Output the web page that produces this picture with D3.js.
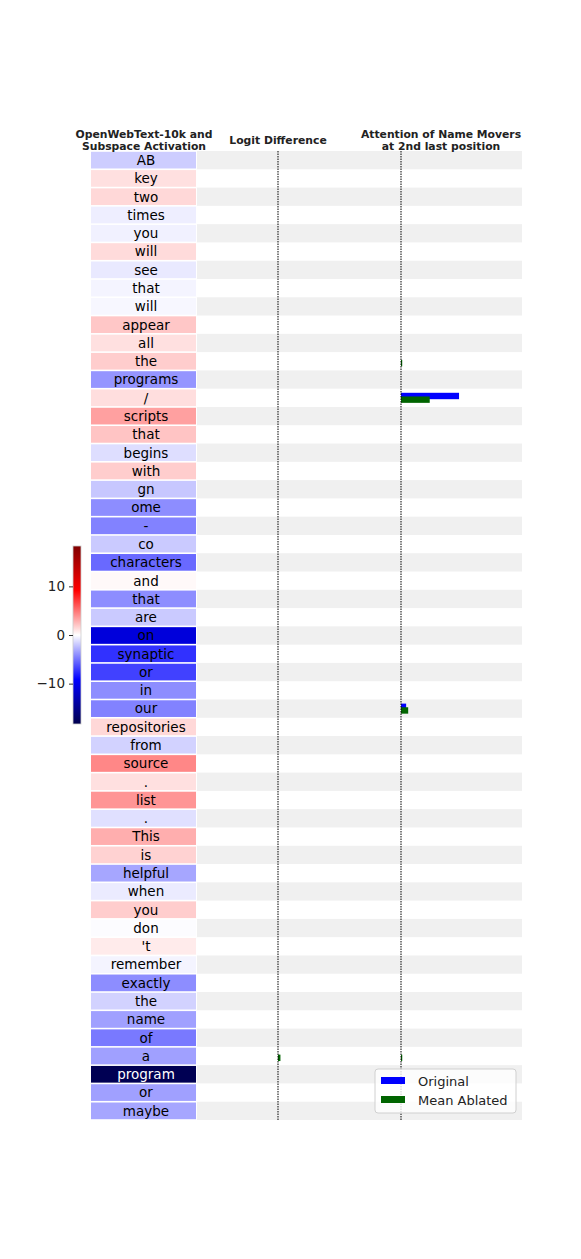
<!DOCTYPE html>
<meta charset="utf-8">
<style>
body { margin: 0; background: #fff; font-family: "DejaVu Sans", sans-serif; }
.title { font-weight: bold; font-size: 10.8px; text-anchor: middle; fill: #222; }
.tok { font-size: 13.5px; text-anchor: middle; }
.legend text { font-size: 13px; fill: #222; }
</style>
<body>
<script src="https://cdn.jsdelivr.net/npm/d3@7"></script>
<script>

var tokens = ["AB","key","two","times","you","will","see","that","will","appear","all","the",
  "programs","/","scripts","that","begins","with","gn","ome","-","co","characters","and","that",
  "are","on","synaptic","or","in","our","repositories","from","source",".","list",".","This","is",
  "helpful","when","you","don","'t","remember","exactly","the","name","of","a","program","or","maybe"];

var activation = [-1.8,1.1,1.4,-0.6,-0.5,1.3,-0.8,-0.4,-0.3,2.0,1.1,1.8,
  -3.8,1.2,3.4,2.1,-1.2,1.8,-2.0,-4.1,-4.5,-1.9,-5.4,0.2,-4.1,
  -1.9,-11,-7.4,-6.8,-4.1,-4.5,1.4,-1.6,4.3,1.1,3.8,-1.1,2.9,1.6,
  -3.2,-0.7,1.8,-0.1,0.7,-0.4,-4.1,-1.6,-3.4,-4.8,-3.4,-18,-3.4,-3.2];

// logit difference
var logitOriginal = tokens.map(function() { return 0; });
var logitAblated = tokens.map(function(d, i) { return i === 49 ? 0.03 : 0; });

// attention of name movers at 2nd last position
var attnOriginal = tokens.map(function(d, i) { return i === 13 ? 0.283 : i === 30 ? 0.025 : 0; });
var attnAblated = tokens.map(function(d, i) {
  return i === 13 ? 0.14 : i === 30 ? 0.035 : i === 11 ? 0.004 : i === 49 ? 0.006 : 0; });

var cbTicks = [-10, 0, 10];
var vmax = 18.3;

var width = 581, height = 1259;

var svg = d3.select('body').append('svg')
    .attr('width', width)
    .attr('height', height);

var color = d3.scaleLinear()
    .domain([-vmax, -vmax / 2, 0, vmax / 2, vmax])
    .range(["rgb(0,0,77)", "rgb(0,0,255)", "rgb(255,255,255)", "rgb(255,0,0)", "rgb(128,0,0)"])
    .clamp(true);

var y = d3.scaleBand()
    .domain(d3.range(tokens.length))
    .range([151, 1120]);

var rowH = y.bandwidth();

// grey stripes behind the two bar columns
svg.selectAll('.stripe')
    .data(d3.range(tokens.length).filter(function(i) { return i % 2 === 0; }))
  .enter().append('rect')
    .attr('x', 197)
    .attr('width', 325)
    .attr('y', function(i) { return y(i); })
    .attr('height', rowH)
    .attr('fill', '#f0f0f0');

// token cells
var cells = svg.selectAll('.cell')
    .data(tokens)
  .enter().append('g')
    .attr('transform', function(d, i) { return 'translate(0,' + y(i) + ')'; });

cells.append('rect')
    .attr('x', 91)
    .attr('width', 105)
    .attr('y', 0.8)
    .attr('height', rowH - 1.6)
    .attr('fill', function(d, i) { return color(activation[i]); });

cells.append('text')
    .attr('class', 'tok')
    .attr('x', 146)
    .attr('y', rowH / 2)
    .attr('dy', '0.36em')
    .attr('fill', function(d, i) { return activation[i] < -14 ? '#fff' : '#000'; })
    .text(function(d) { return d; });

// bar panels
var xLogit = d3.scaleLinear().domain([-1, 1]).range([197, 359]);
var xAttn = d3.scaleLinear().domain([-0.2, 0.59]).range([360, 522]);

function bars(scale, vals, col, off) {
  svg.append('g').selectAll('rect')
      .data(vals.map(function(v, i) { return {v: v, i: i}; }).filter(function(d) { return d.v !== 0; }))
    .enter().append('rect')
      .attr('x', function(d) { return Math.min(scale(0), scale(d.v)); })
      .attr('width', function(d) { return Math.max(1.2, Math.abs(scale(d.v) - scale(0))); })
      .attr('y', function(d) { return y(d.i) + rowH * (0.5 + off) - rowH * 0.175; })
      .attr('height', rowH * 0.35)
      .attr('fill', col);
}
bars(xLogit, logitOriginal, 'blue', -0.1);
bars(xLogit, logitAblated, 'darkgreen', 0.1);
bars(xAttn, attnOriginal, 'blue', -0.1);
bars(xAttn, attnAblated, 'darkgreen', 0.1);

[xLogit, xAttn].forEach(function(s) {
  svg.append('line')
      .attr('x1', s(0)).attr('x2', s(0))
      .attr('y1', 151).attr('y2', 1120)
      .attr('stroke', '#000')
      .attr('stroke-width', 1)
      .attr('stroke-dasharray', '1.5,1');
});

// titles
svg.append('text').attr('class', 'title').attr('x', 144).attr('y', 138).text('OpenWebText-10k and');
svg.append('text').attr('class', 'title').attr('x', 144).attr('y', 150).text('Subspace Activation');
svg.append('text').attr('class', 'title').attr('x', 278).attr('y', 144).text('Logit Difference');
svg.append('text').attr('class', 'title').attr('x', 441).attr('y', 138).text('Attention of Name Movers');
svg.append('text').attr('class', 'title').attr('x', 441).attr('y', 150).text('at 2nd last position');

// legend
var legend = svg.append('g').attr('class', 'legend').attr('transform', 'translate(375,1069)');
legend.append('rect')
    .attr('width', 141).attr('height', 44).attr('rx', 3)
    .attr('fill', 'rgba(255,255,255,0.8)').attr('stroke', '#d0d0d0');
[['Original', 'blue'], ['Mean Ablated', 'darkgreen']].forEach(function(e, i) {
  legend.append('rect').attr('x', 6).attr('y', 8 + i * 19).attr('width', 24).attr('height', 7).attr('fill', e[1]);
  legend.append('text').attr('x', 43).attr('y', 12 + i * 19).attr('dy', '0.36em').text(e[0]);
});

// colorbar
var cb = svg.append('g').attr('class', 'cbar');
var defs = svg.append('defs');
var grad = defs.append('linearGradient').attr('id', 'seis')
    .attr('x1', 0).attr('y1', 1).attr('x2', 0).attr('y2', 0);
d3.range(0, 1.0001, 0.05).forEach(function(t) {
  grad.append('stop').attr('offset', t).attr('stop-color', color(-vmax + 2 * vmax * t));
});
var cy = d3.scaleLinear().domain([-vmax, vmax]).range([724, 546]);
cb.append('rect')
    .attr('x', 73).attr('y', 546).attr('width', 8).attr('height', 178)
    .attr('fill', 'url(#seis)').attr('stroke', '#ccc').attr('stroke-width', 0.8);
cb.append('g')
    .attr('transform', 'translate(73,0)')
    .call(d3.axisLeft(cy).tickValues(cbTicks).tickSize(4).tickPadding(4)
      .tickFormat(function(d) { return d < 0 ? '\u2212' + Math.abs(d) : d; }))
    .call(function(g) { g.select('.domain').remove(); })
    .call(function(g) { g.selectAll('text').attr('font-size', 13.5).attr('fill', '#222')
      .attr('font-family', '"DejaVu Sans", sans-serif'); })
    .call(function(g) { g.selectAll('line').attr('stroke', '#333'); });

</script>
</body>
